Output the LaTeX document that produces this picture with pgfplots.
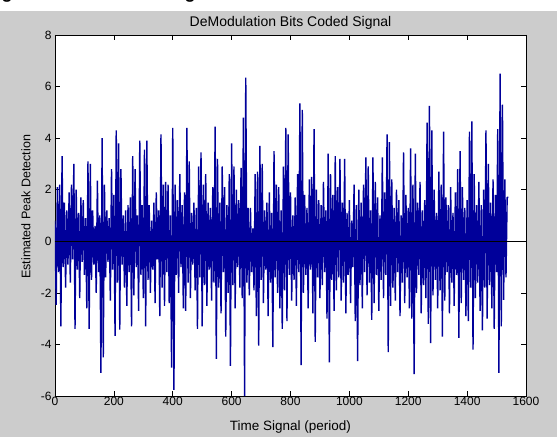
\documentclass[border=0pt]{standalone}
\usepackage{fontspec}
\setmainfont{Liberation Sans}
\usepackage{pgfplots}
\usepackage{pgfplotstable}
\pgfplotsset{compat=1.18}
\definecolor{figgray}{HTML}{CCCCCC}
\definecolor{sigblue}{HTML}{00009A}

% demodulated signal, one sample every 4 time units (0..1540)
\pgfplotstableread[row sep=\\]{
y\\
0.8\\ -2.47\\ 2.1\\ -1.2\\ 2.2\\ -3.3\\ 3.3\\ -1.0\\ 1.5\\ -1.8\\
1.2\\ -0.9\\ 1.9\\ -1.6\\ 2.2\\ -0.7\\ 3.0\\ -3.4\\ 2.0\\ -1.1\\
1.1\\ -2.2\\ 1.7\\ -0.8\\ 1.6\\ -1.3\\ 0.9\\ -2.6\\ 3.1\\ -3.4\\
3.0\\ -1.5\\ 1.2\\ -0.9\\ 0.6\\ -2.0\\ 2.35\\ -1.2\\ 1.0\\ -5.1\\
4.0\\ -4.5\\ 2.2\\ -1.4\\ 1.2\\ -0.8\\ 0.9\\ -2.3\\ 2.8\\ -1.1\\
1.8\\ -3.67\\ 4.3\\ -1.6\\ 3.8\\ -3.43\\ 2.8\\ -0.9\\ 1.0\\ -1.8\\
1.2\\ -2.5\\ 1.4\\ -1.2\\ 1.7\\ -3.3\\ 3.3\\ -2.1\\ 2.8\\ -1.0\\
1.0\\ -2.7\\ 3.9\\ -1.3\\ 1.4\\ -2.2\\ 3.55\\ -3.3\\ 3.9\\ -1.5\\
1.4\\ -2.0\\ 0.8\\ -1.1\\ 1.5\\ -2.4\\ 1.9\\ -0.7\\ 1.2\\ -2.9\\
4.15\\ -1.8\\ 2.2\\ -2.5\\ 2.3\\ -1.2\\ 2.2\\ -2.4\\ 1.0\\ -4.9\\
4.4\\ -5.76\\ 2.2\\ -1.3\\ 1.6\\ -2.0\\ 2.6\\ -1.0\\ 1.4\\ -2.6\\
1.9\\ -2.7\\ 4.4\\ -1.6\\ 3.1\\ -2.2\\ 1.1\\ -0.9\\ 1.5\\ -1.9\\
1.3\\ -3.4\\ 2.9\\ -1.4\\ 3.45\\ -3.3\\ 2.2\\ -1.7\\ 2.6\\ -2.5\\
1.5\\ -1.1\\ 1.3\\ -2.3\\ 2.1\\ -1.6\\ 4.45\\ -4.56\\ 3.2\\ -1.8\\
1.5\\ -2.8\\ 2.9\\ -1.2\\ 2.1\\ -3.7\\ 1.4\\ -2.0\\ 2.6\\ -4.83\\
3.8\\ -1.7\\ 2.9\\ -2.6\\ 2.0\\ -1.0\\ 1.6\\ -1.8\\ 2.85\\ -2.2\\
4.8\\ -6.0\\ 6.35\\ -1.6\\ 1.3\\ -2.1\\ 1.3\\ -1.2\\ 0.5\\ -1.9\\
2.6\\ -2.9\\ 2.7\\ -4.05\\ 3.7\\ -1.5\\ 3.0\\ -2.4\\ 1.2\\ -1.1\\
1.5\\ -2.9\\ 1.9\\ -1.6\\ 1.1\\ -4.1\\ 3.5\\ -1.4\\ 2.2\\ -2.0\\
2.1\\ -2.6\\ 1.2\\ -3.4\\ 2.9\\ -1.9\\ 4.4\\ -3.1\\ 4.15\\ -1.3\\
1.9\\ -2.3\\ 1.0\\ -1.5\\ 1.7\\ -2.5\\ 2.6\\ -1.2\\ 5.35\\ -4.8\\
5.1\\ -2.0\\ 1.8\\ -1.3\\ 1.3\\ -2.6\\ 2.4\\ -1.1\\ 2.5\\ -2.8\\
4.35\\ -3.9\\ 2.0\\ -1.4\\ 1.6\\ -2.2\\ 1.4\\ -1.7\\ 2.3\\ -1.2\\
1.2\\ -3.0\\ 3.4\\ -4.7\\ 2.6\\ -1.5\\ 1.8\\ -2.7\\ 3.3\\ -1.9\\
2.1\\ -1.4\\ 3.2\\ -2.3\\ 1.5\\ -1.6\\ 3.2\\ -2.8\\ 1.1\\ -1.3\\
1.6\\ -2.4\\ 0.8\\ -1.0\\ 2.2\\ -3.1\\ 1.4\\ -4.65\\ 2.0\\ -1.7\\
1.5\\ -2.6\\ 2.2\\ -1.2\\ 3.25\\ -2.1\\ 2.9\\ -1.6\\ 1.2\\ -3.05\\
3.25\\ -2.4\\ 2.3\\ -1.3\\ 1.7\\ -2.7\\ 1.0\\ -1.5\\ 3.25\\ -2.2\\
1.9\\ -1.3\\ 4.15\\ -4.3\\ 3.85\\ -2.5\\ 2.4\\ -1.8\\ 1.3\\ -2.3\\
2.0\\ -1.2\\ 1.6\\ -2.9\\ 1.0\\ -1.6\\ 3.45\\ -2.4\\ 1.8\\ -1.4\\
1.3\\ -2.6\\ 3.6\\ -3.0\\ 2.2\\ -5.15\\ 3.4\\ -2.0\\ 1.5\\ -1.3\\
2.3\\ -2.8\\ 1.2\\ -1.7\\ 1.6\\ -2.2\\ 4.6\\ -3.2\\ 5.25\\ -3.95\\
4.3\\ -2.1\\ 2.0\\ -1.5\\ 1.1\\ -2.6\\ 2.7\\ -1.9\\ 2.2\\ -3.7\\
4.25\\ -2.3\\ 1.7\\ -1.2\\ 1.4\\ -2.8\\ 2.1\\ -1.6\\ 1.1\\ -2.5\\
1.9\\ -1.3\\ 2.8\\ -3.75\\ 3.5\\ -2.4\\ 2.1\\ -1.5\\ 1.3\\ -2.9\\
1.6\\ -3.1\\ 4.25\\ -1.8\\ 4.65\\ -4.2\\ 2.6\\ -2.2\\ 1.4\\ -1.6\\
2.3\\ -2.7\\ 1.4\\ -3.45\\ 2.0\\ -1.8\\ 4.3\\ -3.0\\ 3.0\\ -1.7\\
1.5\\ -2.6\\ 2.4\\ -3.4\\ 1.8\\ -1.2\\ 4.35\\ -5.1\\ 6.5\\ -3.3\\
5.3\\ -2.27\\ 2.4\\ -1.4\\ 1.7\\ 1.7\\
}\signal

\begin{document}
\begin{tikzpicture}
\path[use as bounding box] (-55pt,-41pt) rectangle (502pt,396pt);
\fill[figgray] (-55pt,-41pt) rectangle (502pt,385pt);
% bottom of a caption line cut off above the figure
\begin{scope}
\clip (-55pt,385pt) rectangle (502pt,396pt);
\node[anchor=base,inner sep=0pt,font=\bfseries\fontsize{18}{18}\selectfont] at (-48pt,397pt) {g};
\node[anchor=base,inner sep=0pt,font=\bfseries\fontsize{18}{18}\selectfont] at (135pt,397pt) {g};
\end{scope}
\begin{axis}[
  at={(0pt,0pt)}, anchor=south west,
  scale only axis, width=471pt, height=361pt,
  xmin=0, xmax=1600, ymin=-6, ymax=8,
  xtick={0,200,...,1600}, ytick={-6,-4,...,8},
  tick align=inside, major tick length=5pt,
  every tick/.style={black, line width=0.6pt},
  axis line style={black, line width=0.8pt},
  axis background/.style={fill=white},
  tick label style={font=\fontsize{12}{12}\selectfont},
  xticklabel style={yshift=2pt},
  /pgf/number format/assume math mode=true,
  /pgf/number format/set thousands separator={},
  title={DeModulation Bits Coded Signal},
  title style={at={(axis description cs:0.5,1)}, anchor=center, yshift=6pt,
    font=\fontsize{14}{14}\selectfont},
  xlabel={Time Signal (period)},
  xlabel style={at={(axis description cs:0.5,0)}, anchor=center, yshift=-31pt,
    font=\fontsize{13.5}{13.5}\selectfont},
  ylabel={Estimated Peak Detection},
  ylabel style={at={(axis description cs:-0.062,0.524)}, anchor=center,
    font=\fontsize{12.5}{12.5}\selectfont},
]
\addplot[sigblue, line width=1.4pt, line join=bevel] table[x expr=\coordindex*4, y=y] {\signal};
\addplot[black, line width=1.5pt] coordinates {(0,0) (1600,0)};
\end{axis}
\end{tikzpicture}
\end{document}
